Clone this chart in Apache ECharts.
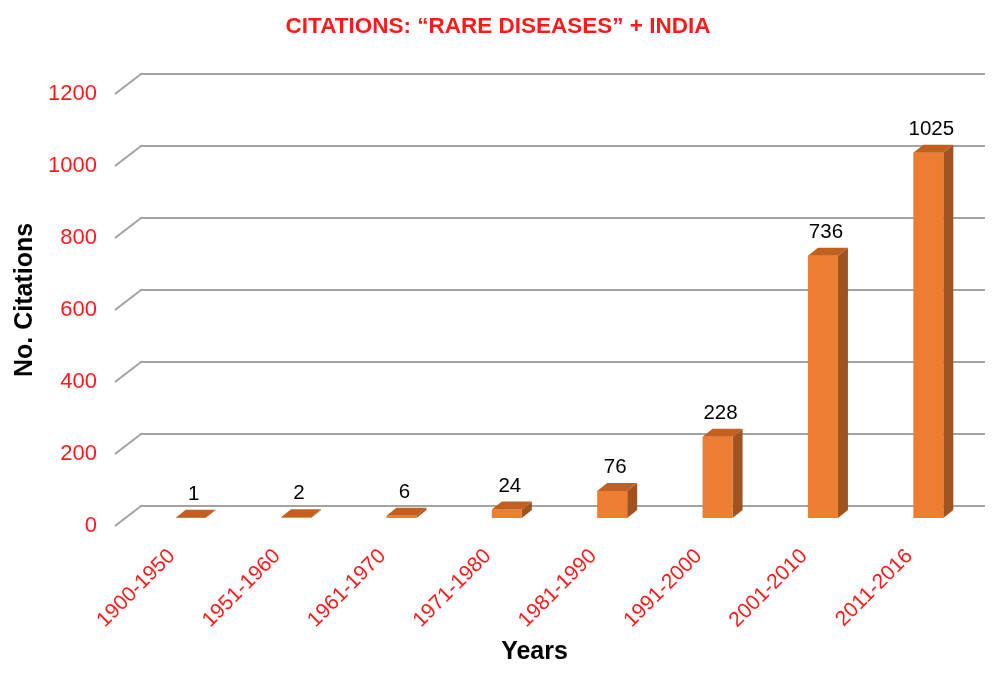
<!DOCTYPE html>
<html>
<head>
<meta charset="utf-8">
<script src="https://cdn.jsdelivr.net/npm/echarts@6/dist/echarts.min.js"></script>
<style>html,body{margin:0;padding:0;background:#fff}#c{width:1000px;height:680px}</style>
</head>
<body>
<div id="c"></div>
<script>
const categories = ['1900-1950','1951-1960','1961-1970','1971-1980','1981-1990','1991-2000','2001-2010','2011-2016'];
const citations = [1, 2, 6, 24, 76, 228, 736, 1025];
const yTicks = [0, 200, 400, 600, 800, 1000, 1200];

const FONT = 'Liberation Sans, Arial, sans-serif';
const chart = echarts.init(document.getElementById('c'));

function gridItem(params, api) {
  const cs = params.coordSys;
  const y = api.coord([0, api.value(1)])[1];
  return {
    type: 'polyline',
    shape: { points: [[cs.x - 14, y], [cs.x + 12, y - 20], [cs.x + cs.width + 13, y - 20]] },
    style: { stroke: '#A3A3A3', lineWidth: 2, fill: null }
  };
}

function barItem(params, api) {
  const i = api.value(0), v = api.value(1);
  const base = api.coord([i, 0]);
  const top = api.coord([i, v]);
  const cx = base[0] + 9, yb = base[1] - 8;
  const yt = yb - (base[1] - top[1]) * 0.99;
  const hw = 15, dx = 10, dy = 8;
  return {
    type: 'group',
    children: [
      { type: 'polygon', shape: { points: [[cx + hw, yt], [cx + hw + dx, yt - dy], [cx + hw + dx, yb - dy], [cx + hw, yb]] },
        style: { fill: '#A0521F' } },
      { type: 'rect', shape: { x: cx - hw, y: yt, width: hw * 2, height: Math.max(yb - yt, 0) },
        style: { fill: '#ED7D31' } },
      { type: 'polygon', shape: { points: [[cx - hw, yt], [cx - hw + dx, yt - dy], [cx + hw + dx, yt - dy], [cx + hw, yt]] },
        style: { fill: '#C2601F' } },
      { type: 'text', x: cx + 3, y: yt - dy - 5,
        style: { text: String(v), fill: '#000', font: '20.5px ' + FONT, align: 'center', verticalAlign: 'bottom' } }
    ]
  };
}

chart.setOption({
  animation: false,
  title: {
    text: 'CITATIONS: \u201cRARE DISEASES\u201d + INDIA',
    left: 493, top: 10, textAlign: 'center',
    textStyle: { color: '#FF1A1A', fontSize: 22.5, fontWeight: 'bold', fontFamily: FONT }
  },
  grid: { left: 129, width: 843, top: 94, height: 432 },
  xAxis: {
    type: 'category', data: categories,
    axisLine: { show: false }, axisTick: { show: false },
    axisLabel: { rotate: 45, margin: 17, padding: [0, 14, 0, 0], color: '#FF1A1A', fontSize: 21, fontFamily: FONT, interval: 0 },
    name: 'Years', nameLocation: 'middle', nameGap: 114,
    nameTextStyle: { color: '#000', fontSize: 25, fontWeight: 'bold', fontFamily: FONT, padding: [0, 32, 0, 0] }
  },
  yAxis: {
    type: 'value', min: 0, max: 1200, interval: 200,
    axisLine: { show: false }, axisTick: { show: false }, splitLine: { show: false },
    axisLabel: { margin: 32, color: '#FF1A1A', fontSize: 22, fontFamily: FONT, formatter: v => String(v), padding: [3, 0, 0, 0] },
    name: 'No. Citations', nameLocation: 'middle', nameGap: 82,
    nameTextStyle: { color: '#000', fontSize: 25, fontWeight: 'bold', fontFamily: FONT, padding: [0, 0, 0, 20] }
  },
  series: [
    { type: 'custom', renderItem: gridItem, data: yTicks.map(v => [0, v]), encode: { x: 0, y: 1 }, z: 1, clip: false, silent: true },
    { type: 'custom', renderItem: barItem, data: citations.map((v, i) => [i, v]), encode: { x: 0, y: 1 }, z: 2, clip: false }
  ]
});
</script>
</body>
</html>
